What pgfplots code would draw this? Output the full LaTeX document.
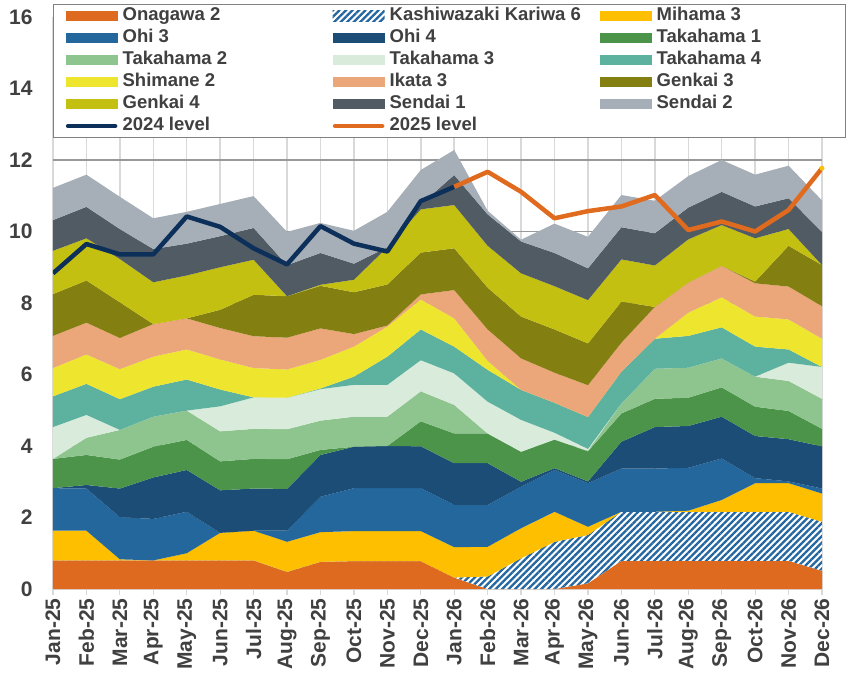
\documentclass[border=0pt]{standalone}
\usepackage{pgfplots}
\pgfplotsset{compat=1.18}
\usepackage{pgfplotstable}
\usetikzlibrary{patterns.meta}
\usepackage{fontspec}
\setmainfont{Liberation Sans}
\definecolor{txt}{HTML}{404040}
\definecolor{cOn}{HTML}{DE6A1F}
\definecolor{cKK}{HTML}{2366A0}
\definecolor{cMi}{HTML}{FDBF00}
\definecolor{cO3}{HTML}{24679D}
\definecolor{cO4}{HTML}{1B4D77}
\definecolor{cT1}{HTML}{4C944A}
\definecolor{cT2}{HTML}{8EC48D}
\definecolor{cT3}{HTML}{D9EBDB}
\definecolor{cT4}{HTML}{5CB19F}
\definecolor{cSh}{HTML}{EEE62E}
\definecolor{cIk}{HTML}{EBA67A}
\definecolor{cG3}{HTML}{837F10}
\definecolor{cG4}{HTML}{C4C012}
\definecolor{cS1}{HTML}{505B64}
\definecolor{cS2}{HTML}{A6AEB7}
\definecolor{cL24}{HTML}{0C305A}
\definecolor{cL25}{HTML}{E06B1E}

\pgfplotstableread{
x  On   KK   Mi   O3   O4   T1   T2   T3   T4   Sh   Ik   G3   G4   S1   S2
0  0.80 0.00 0.83 1.19 0.00 0.82 0.00 0.89 0.86 0.79 0.90 1.17 1.21 0.86 0.90
1  0.80 0.00 0.83 1.18 0.10 0.84 0.48 0.64 0.87 0.82 0.89 1.18 1.18 0.88 0.90
2  0.80 0.00 0.03 1.18 0.80 0.81 0.83 0.00 0.86 0.84 0.87 1.00 1.21 0.84 0.90
3  0.80 0.00 0.00 1.16 1.16 0.86 0.84 0.00 0.84 0.84 0.91 0.00 1.17 0.93 0.86
4  0.80 0.00 0.20 1.16 1.17 0.84 0.82 0.00 0.87 0.84 0.87 0.00 1.20 0.89 0.89
5  0.80 0.00 0.77 0.00 1.19 0.81 0.84 0.70 0.47 0.84 0.88 0.51 1.19 0.87 0.90
6  0.80 0.00 0.83 0.00 1.18 0.83 0.84 0.88 0.00 0.82 0.89 1.16 0.98 0.89 0.89
7  0.48 0.00 0.84 0.31 1.17 0.83 0.84 0.88 0.00 0.79 0.89 1.16 0.00 0.87 0.93
8  0.76 0.00 0.83 0.99 1.17 0.14 0.82 0.88 0.02 0.80 0.88 1.19 0.03 0.89 0.84
9  0.78 0.00 0.84 1.20 1.16 0.00 0.84 0.89 0.23 0.84 0.35 1.17 0.35 0.45 0.92
10 0.78 0.00 0.84 1.20 1.18 0.00 0.82 0.89 0.79 0.84 0.03 1.15 1.04 0.00 0.99
11 0.78 0.00 0.84 1.20 1.17 0.70 0.84 0.87 0.86 0.84 0.14 1.17 1.21 0.14 0.96
12 0.32 0.00 0.85 1.18 1.17 0.83 0.80 0.88 0.75 0.79 0.79 1.17 1.21 0.84 0.70
13 0.00 0.35 0.83 1.17 1.17 0.83 0.00 0.89 0.89 0.25 0.88 1.17 1.17 0.88 0.10
14 0.00 0.86 0.84 1.16 0.14 0.84 0.00 0.89 0.84 0.00 0.88 1.17 1.21 0.89 0.05
15 0.00 1.32 0.84 1.17 0.05 0.80 0.00 0.19 0.84 0.00 0.84 1.21 1.21 0.93 0.82
16 0.16 1.35 0.23 1.22 0.05 0.84 0.02 0.05 0.89 0.00 0.89 1.17 1.21 0.89 0.88
17 0.79 1.37 0.00 1.21 0.75 0.79 0.28 0.00 0.89 0.00 0.81 1.15 1.18 0.90 0.90
18 0.79 1.37 0.00 1.21 1.16 0.79 0.84 0.00 0.84 0.00 0.89 0.00 1.16 0.90 0.91
19 0.79 1.37 0.03 1.20 1.17 0.79 0.84 0.00 0.89 0.65 0.84 0.00 1.21 0.89 0.88
20 0.79 1.37 0.33 1.16 1.17 0.82 0.81 0.00 0.87 0.84 0.88 0.00 1.14 0.93 0.89
21 0.79 1.37 0.80 0.14 1.18 0.82 0.84 0.00 0.84 0.84 0.93 0.05 1.21 0.89 0.89
22 0.79 1.37 0.80 0.05 1.18 0.79 0.84 0.51 0.37 0.84 0.92 1.14 0.47 0.86 0.91
23 0.51 1.37 0.79 0.14 1.18 0.49 0.84 0.89 0.00 0.79 0.91 1.15 0.00 0.93 0.88
}\areas

\pgfplotstableread{
x  y
0  8.83
1  9.65
2  9.36
3  9.36
4  10.42
5  10.13
6  9.53
7  9.08
8  10.15
9  9.66
10 9.44
11 10.85
12 11.25
}\levelA

\pgfplotstableread{
x  y
12 11.25
13 11.67
14 11.11
15 10.37
16 10.57
17 10.70
18 11.02
19 10.04
20 10.28
21 10.00
22 10.60
23 11.77
}\levelB

\newcommand{\LE}[1]{\makebox[177pt][l]{#1}}

\pgfplotsset{
  myarea/.style={stack plots=y, fill=#1, draw=none, mark=none,
    legend image code/.code={\fill[##1] (0pt,-5.2pt) rectangle (52pt,5.2pt);}},
  myline/.style={stack plots=false, color=#1, line width=4.5pt, line join=round, mark=none,
    legend image code/.code={\draw[##1, line cap=round] (2.5pt,0pt) -- (49.5pt,0pt);}},
}

\begin{document}
\begin{tikzpicture}
\begin{axis}[
  name=ax,
  scale only axis, width=769pt, height=572pt,
  xmin=0, xmax=23, ymin=0, ymax=16,
  xtick={0,...,23},
  xticklabels={Jan-25,Feb-25,Mar-25,Apr-25,May-25,Jun-25,Jul-25,Aug-25,Sep-25,Oct-25,Nov-25,Dec-25,Jan-26,Feb-26,Mar-26,Apr-26,May-26,Jun-26,Jul-26,Aug-26,Sep-26,Oct-26,Nov-26,Dec-26},
  ytick={2,4,...,16},
  extra y ticks={0},
  extra y tick style={grid=none},
  /pgf/number format/assume math mode=true,
  tick label style={font=\bfseries\fontsize{21}{21}\selectfont, text=txt},
  xticklabel style={rotate=90, anchor=east},
  yticklabel style={xshift=-11pt},
  xmajorgrids, ymajorgrids,
  x grid style={draw=black!15, line width=1.5pt},
  y grid style={draw=black!40, line width=1.2pt},
  axis x line*=bottom, axis y line*=left,
  x axis line style={draw=black!15, line width=1.5pt, -},
  y axis line style={draw=none},
  tick align=outside, major tick length=6pt,
  xtick style={draw=black!15, line width=1.2pt},
  ytick style={draw=none},
  legend columns=3,
  legend cell align=left,
  legend style={at={(0,1.0227)}, anchor=north west, draw=black!50, line width=1.3pt,
    fill=white, inner xsep=12pt, inner ysep=3pt,
    font=\bfseries\fontsize{18.5}{18.5}\selectfont, text=txt,
    /tikz/every odd column/.append style={column sep=5pt},
    /tikz/every even column/.append style={column sep=33pt},
    row sep=5pt,
    nodes={inner sep=0pt, text height=13pt, text depth=4pt}},
]
\addplot[myarea=cOn] table[x=x, y=On] {\areas} \closedcycle;
\addlegendentry{\LE{Onagawa 2}}
\addplot[myarea=white, postaction={pattern={Lines[angle=45, distance=4.6pt, line width=2.3pt]}, pattern color=cKK}] table[x=x, y=KK] {\areas} \closedcycle;
\addlegendentry{\LE{Kashiwazaki Kariwa 6}}
\addplot[myarea=cMi] table[x=x, y=Mi] {\areas} \closedcycle;
\addlegendentry{\LE{Mihama 3}}
\addplot[myarea=cO3] table[x=x, y=O3] {\areas} \closedcycle;
\addlegendentry{\LE{Ohi 3}}
\addplot[myarea=cO4] table[x=x, y=O4] {\areas} \closedcycle;
\addlegendentry{\LE{Ohi 4}}
\addplot[myarea=cT1] table[x=x, y=T1] {\areas} \closedcycle;
\addlegendentry{\LE{Takahama 1}}
\addplot[myarea=cT2] table[x=x, y=T2] {\areas} \closedcycle;
\addlegendentry{\LE{Takahama 2}}
\addplot[myarea=cT3] table[x=x, y=T3] {\areas} \closedcycle;
\addlegendentry{\LE{Takahama 3}}
\addplot[myarea=cT4] table[x=x, y=T4] {\areas} \closedcycle;
\addlegendentry{\LE{Takahama 4}}
\addplot[myarea=cSh] table[x=x, y=Sh] {\areas} \closedcycle;
\addlegendentry{\LE{Shimane 2}}
\addplot[myarea=cIk] table[x=x, y=Ik] {\areas} \closedcycle;
\addlegendentry{\LE{Ikata 3}}
\addplot[myarea=cG3] table[x=x, y=G3] {\areas} \closedcycle;
\addlegendentry{\LE{Genkai 3}}
\addplot[myarea=cG4] table[x=x, y=G4] {\areas} \closedcycle;
\addlegendentry{\LE{Genkai 4}}
\addplot[myarea=cS1] table[x=x, y=S1] {\areas} \closedcycle;
\addlegendentry{\LE{Sendai 1}}
\addplot[myarea=cS2] table[x=x, y=S2] {\areas} \closedcycle;
\addlegendentry{\LE{Sendai 2}}
\addplot[myline=cL24] table[x=x, y=y] {\levelA};
\addlegendentry{\LE{2024 level}}
\addplot[myline=cL25] table[x=x, y=y] {\levelB};
\addlegendentry{\LE{2025 level}}
\addplot[stack plots=false, forget plot, only marks, mark=*, mark size=2.2pt, color=cMi] coordinates {(23,11.77)};
\end{axis}
\pgfresetboundingbox
\path[use as bounding box] ([shift={(-53pt,-86pt)}]ax.south west) rectangle ([shift={(794pt,589pt)}]ax.south west);
\end{tikzpicture}
\end{document}
